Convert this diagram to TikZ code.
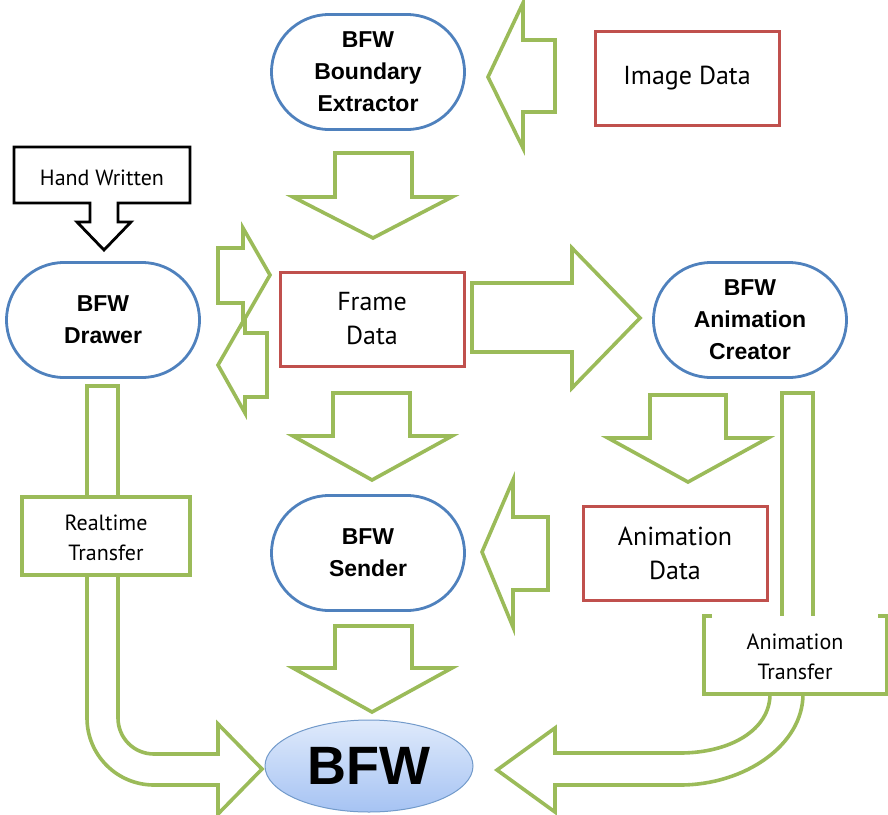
\documentclass[tikz,border=0pt]{standalone}
\usepackage{fontspec}
\setmainfont{PT Sans}
\newfontfamily\procfont{Liberation Sans}
\usetikzlibrary{shapes.misc, shapes.geometric}
\definecolor{bfwgreen}{HTML}{9BBB59}
\definecolor{bfwblue}{HTML}{4F81BD}
\definecolor{bfwred}{HTML}{C0504D}
\definecolor{bfwtop}{HTML}{DFEAFB}
\definecolor{bfwbottom}{HTML}{A6C3F3}
\tikzset{
  process/.style = {shape=rounded rectangle, draw=bfwblue, line width=2.8pt, fill=white,
    minimum width=193pt, minimum height=115pt, inner sep=0pt, align=center,
    font=\procfont\bfseries\fontsize{23}{32}\selectfont},
  databox/.style = {draw=bfwred, line width=3pt, fill=white, minimum width=184pt,
    minimum height=94pt, inner sep=0pt, align=center, font=\fontsize{26}{34}\selectfont},
  transfer/.style = {inner sep=0pt, align=center, font=\fontsize{22}{30}\selectfont},
  blockarrow/.style = {draw=bfwgreen, line width=3.6pt, fill=white, line join=miter},
  final/.style = {ellipse, draw=bfwblue!80, line width=1pt, top color=bfwtop,
    bottom color=bfwbottom, minimum width=208pt, minimum height=92pt, inner sep=0pt,
    font=\procfont\bfseries\fontsize{54}{54}\selectfont},
}
\begin{document}
\begin{tikzpicture}[x=1pt, y=-1pt]
\useasboundingbox (0,0) rectangle (888,814);

% bent arrows
\draw[blockarrow] (87,386) -- (87,718) .. controls (87,755) and (117,785) .. (154,785)
  -- (218,785) -- (218,814) -- (262,769) -- (218,724) -- (218,754) -- (154,754)
  .. controls (134,754) and (118,738) .. (118,718) -- (118,386) -- cycle;
\draw[blockarrow] (803,694) .. controls (803,745) and (745,785) .. (680,785) -- (555,785)
  -- (555,812) -- (497,770) -- (555,728) -- (555,753) -- (680,753)
  .. controls (730,753) and (770,730) .. (770,694) -- cycle;
\draw[blockarrow] (782,616) -- (782,393) -- (813,393) -- (813,616);

% straight arrows
\draw[blockarrow] (555,40) -- (523,40) -- (523,3) -- (488,77) -- (523,148) -- (523,112) -- (555,112) -- cycle;
\draw[blockarrow] (335,153) -- (412,153) -- (412,197) -- (452,197) -- (373,238) -- (293,197) -- (335,197) -- cycle;
\draw[blockarrow] (472,283) -- (572,283) -- (572,248) -- (640,318) -- (572,388) -- (572,352) -- (472,352) -- cycle;
\draw[blockarrow] (267,333) -- (245,333) -- (245,318) -- (218,365) -- (245,413) -- (245,397) -- (267,397) -- cycle;
\draw[blockarrow] (218,248) -- (243,248) -- (243,228) -- (270,275) -- (243,322) -- (243,303) -- (218,303) -- cycle;
\draw[blockarrow] (333,393) -- (410,393) -- (410,436) -- (452,436) -- (372,480) -- (293,436) -- (333,436) -- cycle;
\draw[blockarrow] (650,395) -- (726,395) -- (726,438) -- (768,438) -- (688,482) -- (608,438) -- (650,438) -- cycle;
\draw[blockarrow] (548,517) -- (513,517) -- (513,480) -- (482,552) -- (513,627) -- (513,590) -- (548,590) -- cycle;
\draw[blockarrow] (335,626) -- (412,626) -- (412,668) -- (452,668) -- (372,712) -- (293,668) -- (335,668) -- cycle;

% callout
\draw[line width=2.8pt, fill=white, line join=miter] (14,147) -- (190,147) -- (190,203) -- (118,203)
  -- (118,222) -- (131,222) -- (104,250) -- (77,222) -- (90,222) -- (90,203) -- (14,203) -- cycle;
\node[transfer] (hand) at (102,178) {Hand Written};

% transfer boxes
\draw[bfwgreen, line width=3.2pt, fill=white] (22,497) rectangle (190,575);
\node[transfer] (realtime) at (106,538) {Realtime\\Transfer};
\fill[white] (704,616) rectangle (887,694);
\draw[bfwgreen, line width=3.2pt] (712,616) -- (704,616) -- (704,694) -- (887,694) -- (887,616) -- (878,616);
\node[transfer] (animtransfer) at (795,657) {Animation\\Transfer};

% main blocks
\node[process] (extractor) at (368,72) {BFW\\Boundary\\Extractor};
\node[process] (drawer) at (103,320) {BFW\\Drawer};
\node[process] (creator) at (750,320) {BFW\\Animation\\Creator};
\node[process] (sender) at (368,553) {BFW\\Sender};
\node[databox] (image) at (687,78) {Image Data};
\node[databox] (frame) at (372,319) {Frame\\Data};
\node[databox] (animdata) at (675,553) {Animation\\Data};
\node[final] (bfw) at (369,766) {BFW};
\end{tikzpicture}
\end{document}
